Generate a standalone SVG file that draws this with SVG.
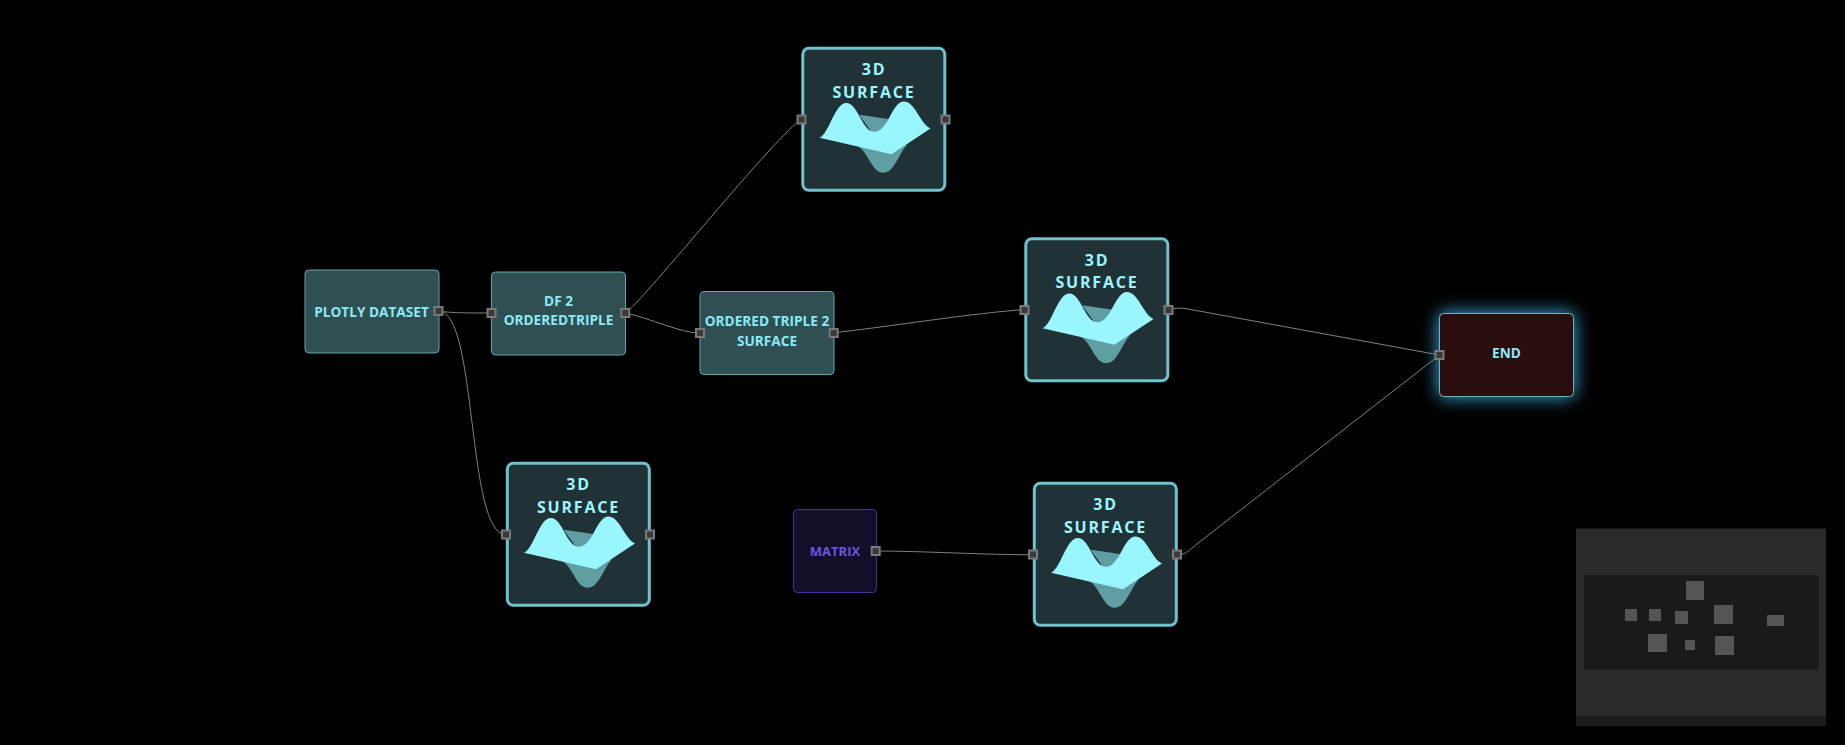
<svg xmlns="http://www.w3.org/2000/svg" width="1845" height="745" viewBox="0 0 1845 745">
<style>
text{font-family:"Open Sans","Noto Sans","Liberation Sans",sans-serif;text-anchor:middle;font-weight:700}
.lbl{font-size:13.65px;fill:#8be9f5}
.sfl{font-size:16px;letter-spacing:1.8px;fill:#9bf6ff}
.box{fill:#2f4f52;stroke:#62a6ad;stroke-width:1}
.sbox{fill:#203236;stroke:#6fc3cc;stroke-width:3}
.port{fill:#3a3a3a;stroke:#7a7a7a;stroke-width:2}
.edge{fill:none;stroke:#808080;stroke-width:1}
.mm{fill:#555}
</style>
<defs>
<filter id="glow" x="-30%" y="-40%" width="160%" height="180%"><feDropShadow dx="0" dy="0" stdDeviation="9" flood-color="#3fb4ea" flood-opacity="1"/></filter>
<g id="wave">
<path d="M57 67.200L86.500 71.500L75 92ZM56 99C66 104 70 125.300 81 125.300C92 125.300 96 108 105 97Z" fill="#5f9ea3"/>
<path d="M17.500 90.300C27.500 86 32.500 55.500 44.500 55.500C56 55.500 60 84.300 72.500 84.300C86 84.300 90 54 102 54C113 54 118 76 128.500 81L89.500 106.700Z" fill="#99f6ff"/>
</g>
<g id="surfbody">
<rect class="sbox" x="0.800" y="0.800" width="142" height="142" rx="6"/>
<text class="sfl" x="72" y="27.800">3D</text>
<text class="sfl" x="72" y="50.300">SURFACE</text>
<use href="#wave"/>
<rect class="port" x="-4.500" y="68" width="8" height="8"/>
<rect class="port" x="139.500" y="68" width="8" height="8"/>
</g>
</defs>
<rect width="1845" height="745" fill="#000"/>
<g id="connectors">
<path class="edge" d="M438.500 311C450 313 470 313 491.500 313"/>
<path class="edge" d="M438.500 311C478 311 466 534.700 506 534.700"/>
<path class="edge" d="M625.300 313C640 305 780 130 801.500 119.700"/>
<path class="edge" d="M625.300 313C650 318 680 333 700 333"/>
<path class="edge" d="M833.700 332.700C880 328 980 312 1025 309.700"/>
<path class="edge" d="M1168.700 309.700C1175 308 1180 307.500 1188 309L1439.500 355"/>
<path class="edge" d="M875.700 551C920 551 990 555 1033.300 554.700"/>
<path class="edge" d="M1177 554.700C1186 555 1189 550 1197 544L1439.500 355"/>
</g>
<g id="node-plotly">
<rect class="box" x="305" y="270" width="134" height="83" rx="4"/>
<text class="lbl" x="371.500" y="317">PLOTLY DATASET</text>
<rect class="port" x="434.500" y="307" width="8" height="8"/>
</g>
<g id="node-df2">
<rect class="box" x="491.500" y="272" width="134" height="83" rx="4"/>
<text class="lbl" x="558.500" y="306">DF 2</text>
<text class="lbl" x="558.500" y="325">ORDEREDTRIPLE</text>
<rect class="port" x="487.500" y="309" width="8" height="8"/>
<rect class="port" x="621.300" y="309" width="8" height="8"/>
</g>
<g id="node-triple">
<rect class="box" x="700" y="291.500" width="134" height="83" rx="4"/>
<text class="lbl" x="767" y="325.500">ORDERED TRIPLE 2</text>
<text class="lbl" x="767" y="345.500">SURFACE</text>
<rect class="port" x="696" y="329" width="8" height="8"/>
<rect class="port" x="829.700" y="329" width="8" height="8"/>
</g>
<g id="node-surface1" transform="translate(802 47.500)"><use href="#surfbody"/></g>
<g id="node-surface2" transform="translate(1025 238)"><use href="#surfbody"/></g>
<g id="node-surface3" transform="translate(506.500 462.500)"><use href="#surfbody"/></g>
<g id="node-surface4" transform="translate(1033.500 482.500)"><use href="#surfbody"/></g>
<g id="node-matrix">
<rect x="793.500" y="509.500" width="83" height="83" rx="4" fill="#130f2a" stroke="#3f3596" stroke-width="1"/>
<text x="835" y="556" font-size="13" fill="#6a55e0">MATRIX</text>
<rect class="port" x="871.700" y="547" width="8" height="8"/>
</g>
<g id="node-end">
<rect x="1439.500" y="313.500" width="134" height="83" rx="4" fill="#2c0d0b" stroke="#6fb4c4" stroke-width="1" filter="url(#glow)"/>
<text class="lbl" x="1506.500" y="358">END</text>
<rect class="port" x="1435.500" y="351" width="8" height="8"/>
</g>
<g id="minimap">
<rect x="1576" y="528.500" width="250" height="197.500" fill="#2a2a2a"/>
<rect x="1576" y="716" width="250" height="10" fill="#1c1c1c"/>
<rect x="1584" y="575" width="234.700" height="94.700" fill="#1a1a1a"/>
<rect class="mm" x="1686" y="581" width="18" height="19"/>
<rect class="mm" x="1625" y="609" width="12" height="12"/>
<rect class="mm" x="1649" y="609" width="12" height="12"/>
<rect class="mm" x="1675" y="611" width="13" height="13"/>
<rect class="mm" x="1714" y="605" width="19" height="19"/>
<rect class="mm" x="1767" y="615" width="17" height="11"/>
<rect class="mm" x="1648" y="634" width="19" height="18"/>
<rect class="mm" x="1685" y="640" width="10" height="10"/>
<rect class="mm" x="1715" y="636" width="19" height="19"/>
</g>
</svg>
